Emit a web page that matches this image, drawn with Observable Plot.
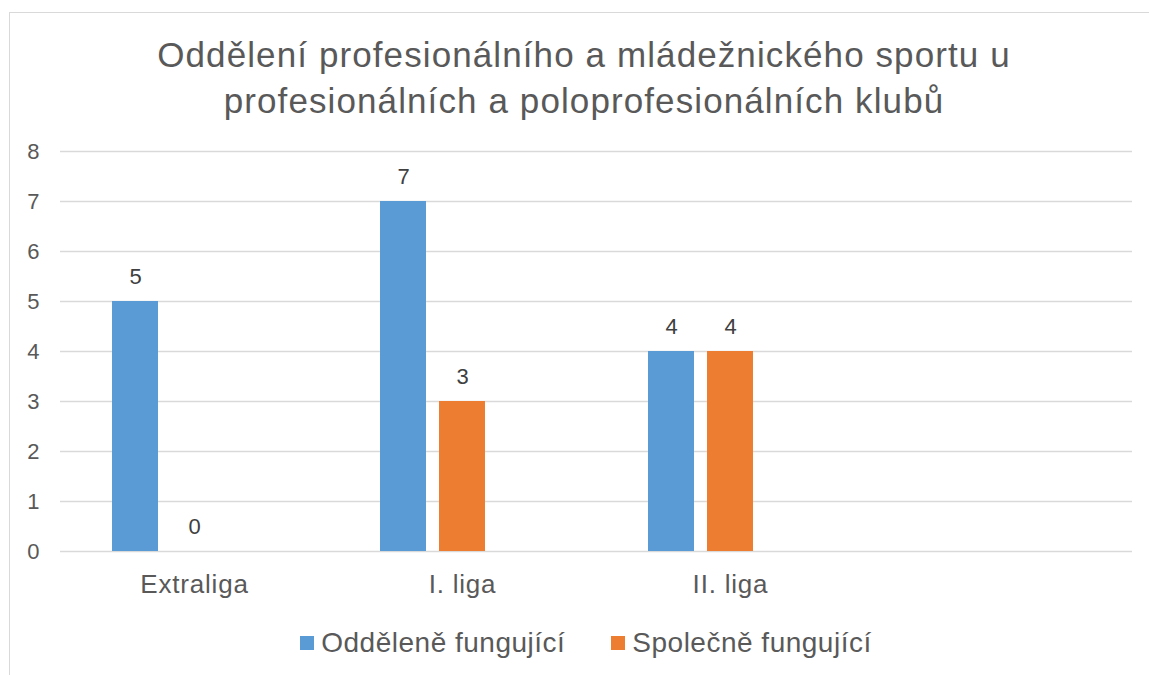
<!DOCTYPE html>
<html>
<head>
<meta charset="utf-8">
<script src="https://cdn.jsdelivr.net/npm/d3@7"></script>
<script src="https://cdn.jsdelivr.net/npm/@observablehq/plot@0.6"></script>
<style>
  html, body { margin: 0; padding: 0; background: #fff; width: 1149px; height: 675px; overflow: hidden; }
  body { font-family: "Liberation Sans", Arial, sans-serif; color: #595959; position: relative; }
  #frame { position: absolute; left: 9px; top: 12px; width: 1150px; height: 700px; border: 1px solid #d9d9d9; box-sizing: border-box; }
  #title { position: absolute; left: 9px; width: 1150px; top: 32px; text-align: center; font-size: 35px; line-height: 46px; letter-spacing: 1.1px; color: #595959; }
  #chart { position: absolute; left: 0; top: 130px; }
  #legend { position: absolute; left: 0; top: 626px; width: 1172px; display: flex; justify-content: center; gap: 46px; font-size: 28px; letter-spacing: 0.5px; line-height: 34px; }
  .item { display: flex; align-items: center; }
  .sw { width: 14px; height: 14px; margin-right: 7px; }
  svg.chart [aria-label*="fx-axis"] text { letter-spacing: 0.8px; }
  svg.chart [aria-label*="y-axis"], svg.chart [aria-label*="y-axis"] text { font-size: 22px !important; }
</style>
</head>
<body>
<div id="frame"></div>
<div id="title">Oddělení profesionálního a mládežnického sportu u<br>profesionálních a poloprofesionálních klubů</div>
<div id="chart"></div>
<div id="legend"></div>
<script>
const categories = ["Extraliga", "I. liga", "II. liga", " "];
const seriesNames = ["Odděleně fungující", "Společně fungující"];
const oddeleneValues = [5, 7, 4];
const spolecneValues = [0, 3, 4];
const colors = ["#5B9BD5", "#ED7D31"];
const yTicks = [0, 1, 2, 3, 4, 5, 6, 7, 8];

const data = [];
categories.slice(0, 3).forEach((c, i) => {
  data.push({category: c, series: seriesNames[0], value: oddeleneValues[i]});
  data.push({category: c, series: seriesNames[1], value: spolecneValues[i]});
});
// empty fourth category (kept so its facet is drawn, like the source chart)
const barData = data.concat([{category: categories[3], series: "_blank", value: null}]);

const chart = Plot.plot({
  className: "chart",
  width: 1149,
  height: 481,
  marginLeft: 60,
  marginRight: 17,
  marginTop: 21,
  marginBottom: 60,
  style: {fontFamily: "'Liberation Sans', Arial, sans-serif", color: "#595959", background: "transparent"},
  fx: {domain: categories, paddingInner: 0, paddingOuter: 0, label: null},
  x: {domain: [...seriesNames, "_blank"], paddingInner: 0.22, paddingOuter: 0.881, axis: null},
  y: {domain: [0, 8], ticks: yTicks, label: null},
  color: {domain: seriesNames, range: colors},
  marks: [
    Plot.gridY(yTicks, {stroke: "#d9d9d9", strokeOpacity: 1, strokeWidth: 1.5}),
    Plot.axisY(yTicks, {tickSize: 0, tickPadding: 21, fontSize: 22, fill: "#595959", label: null, tickFormat: "d"}),
    Plot.axisFx({anchor: "bottom", tickSize: 0, tickPadding: 23, fontSize: 26, fill: "#595959", label: null}),
    Plot.barY(barData, {fx: "category", x: "series", y: "value", fill: "series"}),
    Plot.text(data, {fx: "category", x: "series", y: "value", text: d => String(d.value), lineAnchor: "bottom", dy: -18, fontSize: 22, fill: "#404040"})
  ]
});
document.getElementById("chart").appendChild(chart);

const legend = document.getElementById("legend");
seriesNames.forEach((s, i) => {
  const item = document.createElement("div");
  item.className = "item";
  const sw = document.createElement("span");
  sw.className = "sw";
  sw.style.background = colors[i];
  const t = document.createElement("span");
  t.textContent = s;
  item.appendChild(sw);
  item.appendChild(t);
  legend.appendChild(item);
});
</script>
</body>
</html>
